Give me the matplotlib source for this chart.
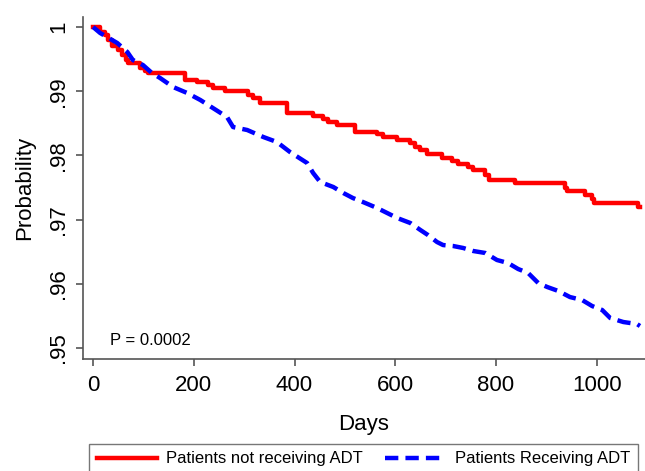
import matplotlib
matplotlib.use("Agg")
import matplotlib.pyplot as plt

plt.rcParams["font.family"] = ["Liberation Sans", "DejaVu Sans"]

# Kaplan-Meier estimates
days_no_adt = [0, 14, 24, 30, 38, 50, 58, 66, 70, 93, 103, 109, 183, 207, 228, 238,
               262, 308, 318, 332, 385, 437, 457, 467, 485, 520, 564, 576, 604, 630,
               640, 650, 663, 693, 713, 725, 745, 755, 779, 786, 838, 937, 941, 977,
               991, 995, 1082, 1086]
surv_no_adt = [1.0, 0.99927, 0.99875, 0.99798, 0.99704, 0.99642, 0.99564, 0.99486,
               0.99439, 0.99361, 0.99315, 0.99288, 0.99174, 0.99143, 0.99097, 0.9905,
               0.99003, 0.9894, 0.98894, 0.98816, 0.9866, 0.98614, 0.98567, 0.9852,
               0.98474, 0.98364, 0.98333, 0.98287, 0.9824, 0.98193, 0.98131, 0.98084,
               0.98022, 0.9796, 0.97913, 0.97866, 0.97819, 0.97773, 0.97695, 0.97617,
               0.9757, 0.97492, 0.97445, 0.97383, 0.97321, 0.97259, 0.97196, 0.97196]

days_adt = [0, 14, 48, 68, 79, 99, 117, 133, 159, 187, 213, 238, 266, 278, 306, 338,
            365, 391, 425, 437, 451, 477, 497, 516, 536, 564, 584, 604, 630, 650, 665,
            683, 695, 715, 735, 755, 779, 802, 824, 844, 864, 884, 902, 924, 947, 971,
            991, 1011, 1027, 1053, 1080, 1086]
surv_adt = [1.0, 0.99907, 0.99751, 0.99611, 0.99486, 0.99408, 0.99283, 0.99206,
            0.99065, 0.98972, 0.98863, 0.98738, 0.98598, 0.98442, 0.98396, 0.98287,
            0.98209, 0.98053, 0.97882, 0.97726, 0.97586, 0.97508, 0.97414, 0.97336,
            0.97274, 0.97181, 0.97103, 0.97025, 0.96947, 0.96838, 0.9676, 0.96651,
            0.96604, 0.96589, 0.96558, 0.96511, 0.9648, 0.96371, 0.96324, 0.96231,
            0.96168, 0.96012, 0.9595, 0.95888, 0.95794, 0.95748, 0.95654, 0.95592,
            0.95467, 0.95405, 0.95374, 0.95343]

xticks = [0, 200, 400, 600, 800, 1000]
yticks = [0.95, 0.96, 0.97, 0.98, 0.99, 1.0]
ylabels = [".95", ".96", ".97", ".98", ".99", "1"]

fig = plt.figure(figsize=(6.45, 4.71), dpi=100)
ax = fig.add_axes([0.1287, 0.2378, 0.8713, 0.7261])

ax.plot(days_no_adt, surv_no_adt, color="red", lw=3.2, drawstyle="steps-post",
        label="Patients not receiving ADT")
ax.plot(days_adt, surv_adt, color="blue", lw=3.2, ls=(0, (3, 1.6)),
        label="Patients Receiving ADT")

ax.text(34, 0.9505, "P = 0.0002", fontsize=12)

ax.set_xlim(-20, 1096)
ax.set_ylim(0.94829, 1.00156)
ax.set_xticks(xticks)
ax.set_yticks(yticks)
ax.set_yticklabels(ylabels, rotation=90, va="center")
ax.tick_params(labelsize=16, length=5, width=1.2, color="#555555")
ax.tick_params(axis="x", pad=6.5)
ax.tick_params(axis="y", pad=5)
ax.set_xlabel("Days", fontsize=16, labelpad=13)
ax.set_ylabel("Probability", fontsize=16, labelpad=9)

for side in ["top", "right"]:
    ax.spines[side].set_visible(False)
for side in ["left", "bottom"]:
    ax.spines[side].set_color("#555555")
    ax.spines[side].set_linewidth(1.2)

fig.legend(loc="upper left", bbox_to_anchor=(89 / 645, 1 - 444 / 471), ncol=2,
           fontsize=12, frameon=True, fancybox=False, edgecolor="#555555",
           handlelength=3.6, handletextpad=0.6, columnspacing=1.3,
           borderaxespad=0, borderpad=0.45)

fig.savefig("out.png", dpi=100)
